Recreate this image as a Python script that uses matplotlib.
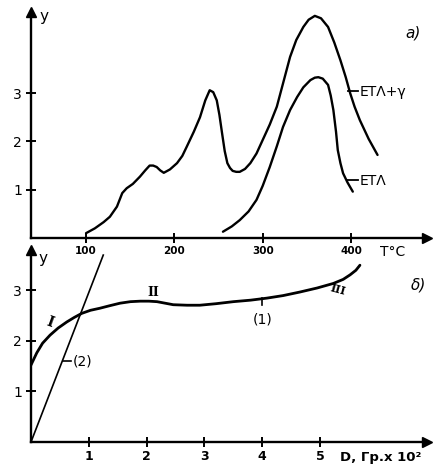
import matplotlib
matplotlib.use("Agg")
import matplotlib.pyplot as plt

# ---- data: panel a) ----
T_etag = [100, 110, 120, 127, 135, 141, 146, 153, 161, 167, 172, 176, 180, 184, 188, 195, 203,
          209, 214, 222, 229, 235, 240, 244, 248, 251, 254, 257, 260, 263, 266, 270, 274, 280,
          286, 293, 300, 308, 316, 323, 331, 338, 346, 352, 359, 366, 374, 381, 388, 394, 399,
          404, 410, 420, 430]
y_etag = [0.10, 0.20, 0.33, 0.44, 0.65, 0.93, 1.03, 1.12, 1.27, 1.40, 1.50, 1.50, 1.47, 1.40, 1.35,
          1.42, 1.55, 1.70, 1.89, 2.20, 2.50, 2.85, 3.06, 3.02, 2.85, 2.55, 2.17, 1.80, 1.55, 1.45,
          1.39, 1.37, 1.37, 1.43, 1.55, 1.75, 2.03, 2.35, 2.72, 3.20, 3.75, 4.10, 4.37, 4.52, 4.60,
          4.55, 4.37, 4.05, 3.68, 3.33, 3.00, 2.72, 2.44, 2.05, 1.72]

T_eta = [255, 265, 274, 284, 293, 300, 308, 316, 323, 331, 339, 346, 354, 359, 363, 368, 374,
         377, 380, 383, 385, 388, 391, 396, 402]
y_eta = [0.13, 0.24, 0.37, 0.55, 0.79, 1.08, 1.47, 1.90, 2.30, 2.65, 2.92, 3.12, 3.27, 3.32, 3.33,
         3.30, 3.17, 2.95, 2.65, 2.20, 1.82, 1.55, 1.34, 1.15, 0.96]

T_ticks = [100, 200, 300, 400]
ya_ticks = [1, 2, 3]

# ---- data: panel б) ----
D_curve1 = [0.0, 0.05, 0.10, 0.20, 0.33, 0.47, 0.62, 0.75, 0.88, 1.03, 1.19, 1.36, 1.54, 1.72,
            1.89, 2.04, 2.18, 2.32, 2.46, 2.70, 2.92, 3.20, 3.50, 3.80, 4.08, 4.36, 4.65, 4.95,
            5.23, 5.40, 5.52, 5.62, 5.69]
y_curve1 = [1.52, 1.64, 1.76, 1.95, 2.11, 2.25, 2.37, 2.46, 2.54, 2.60, 2.64, 2.69, 2.74, 2.77,
            2.78, 2.78, 2.77, 2.74, 2.71, 2.70, 2.70, 2.73, 2.77, 2.80, 2.84, 2.89, 2.96, 3.04,
            3.13, 3.21, 3.30, 3.39, 3.49]
D_line2 = [0.0, 1.25]
y_line2 = [0.0, 3.69]

D_ticks = [1, 2, 3, 4, 5]
yb_ticks = [1, 2, 3]

LW = 1.7
fig = plt.figure(figsize=(4.33, 4.72), dpi=100)

def style(ax, xt, yt, xfs, yfs):
    ax.patch.set_visible(False)
    for s in ("top", "right"):
        ax.spines[s].set_visible(False)
    for s in ("left", "bottom"):
        ax.spines[s].set_linewidth(LW)
    ax.set_xticks(xt)
    ax.set_yticks(yt)
    ax.set_xticklabels([str(t) for t in xt], fontsize=xfs, fontweight="bold")
    ax.set_yticklabels([str(t) for t in yt], fontsize=yfs)
    ax.tick_params(axis="both", direction="inout", length=7, width=1.4, pad=2)
    ax.tick_params(axis="y", pad=3)
    ax.plot(1, 0, ">k", ms=7, transform=ax.transAxes, clip_on=False)
    ax.plot(0, 1, "^k", ms=7, transform=ax.transAxes, clip_on=False)

# ---- panel б) (drawn first, below) ----
ax2 = fig.add_axes([31/433, (472-442)/472, 396/433, 192/472])
ax2.set_xlim(0, 6.85)
ax2.set_ylim(0, 3.79)
style(ax2, D_ticks, yb_ticks, 9, 10)
ax2.plot(D_curve1, y_curve1, color="black", lw=2.0, solid_joinstyle="round", solid_capstyle="round")
ax2.plot(D_line2, y_line2, color="black", lw=1.2, clip_on=False)
ax2.plot([4.0, 4.0], [2.84, 2.70], color="black", lw=1.2)
ax2.text(4.0, 2.42, "(1)", fontsize=10, va="center", ha="center")
ax2.plot([0.55, 0.70], [1.60, 1.60], color="black", lw=1.2)
ax2.text(0.72, 1.58, "(2)", fontsize=10, va="center", ha="left")
ax2.text(0.33, 2.36, "I", fontsize=10, family="DejaVu Serif", fontweight="bold",
         rotation=-20, va="center", ha="center")
ax2.text(2.11, 2.95, "II", fontsize=9, family="DejaVu Serif", fontweight="bold",
         va="center", ha="center")
ax2.text(5.31, 3.0, "III", fontsize=8, family="DejaVu Serif", fontweight="bold",
         rotation=-15, va="center", ha="center")
ax2.text(6.7, 3.1, "δ)", fontsize=11, style="italic", va="center", ha="center")
ax2.text(0.2, 3.62, "y", fontsize=11, va="center", ha="center")
ax2.text(5.35, -0.30, "D, Гр.x 10²", fontsize=9.5, fontweight="bold", va="center", ha="left")

# ---- panel a) ----
ax1 = fig.add_axes([31/433, (472-238)/472, 396/433, 226/472])
ax1.set_xlim(37.7, 486)
ax1.set_ylim(0, 4.68)
style(ax1, T_ticks, ya_ticks, 7.5, 10)
ax1.plot(T_etag, y_etag, color="black", lw=LW, solid_joinstyle="round", solid_capstyle="round")
ax1.plot(T_eta, y_eta, color="black", lw=LW, solid_joinstyle="round", solid_capstyle="round")
ax1.plot([397, 408], [3.04, 3.04], color="black", lw=1.3)
ax1.text(410, 3.02, "ETΛ+γ", fontsize=10, va="center", ha="left")
ax1.plot([396, 408], [1.20, 1.20], color="black", lw=1.3)
ax1.text(410, 1.18, "ETΛ", fontsize=10, va="center", ha="left")
ax1.text(470, 4.24, "a)", fontsize=11, style="italic", va="center", ha="center")
ax1.text(52, 4.58, "y", fontsize=11, va="center", ha="center")
ax1.text(447, -0.28, "T°C", fontsize=10, va="center", ha="center")

fig.savefig("out.png", dpi=100)
